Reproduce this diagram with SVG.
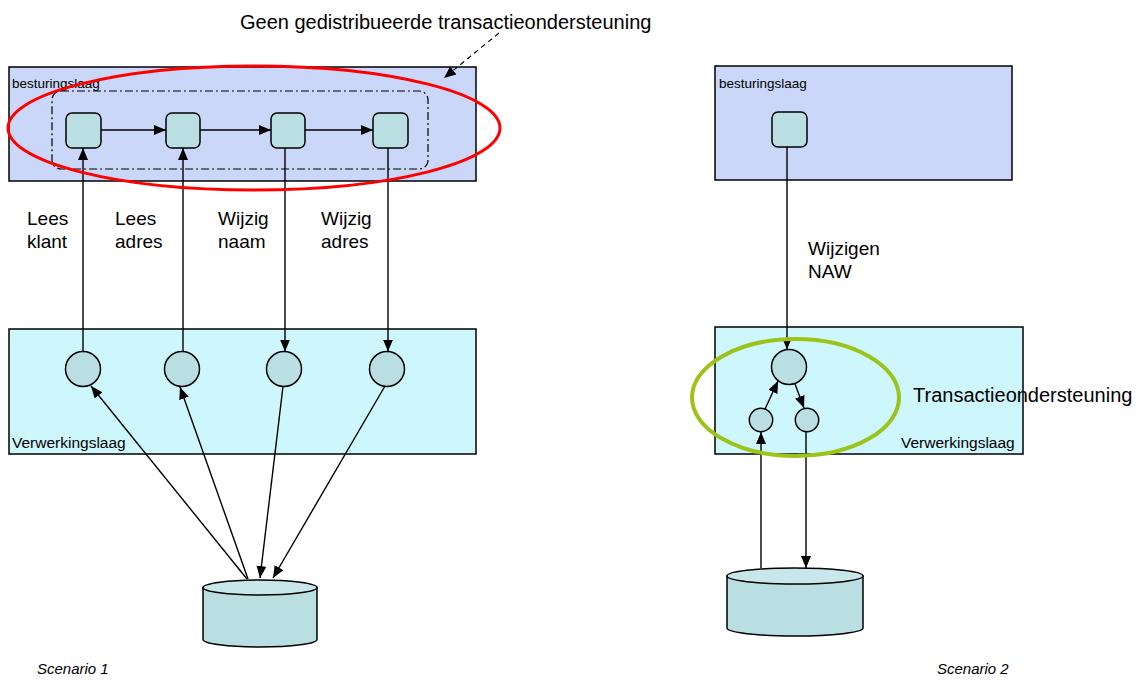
<svg xmlns="http://www.w3.org/2000/svg" width="1140" height="682" viewBox="0 0 1140 682">
  <style>
    text { font-family: "Liberation Sans", Arial, sans-serif; fill: #000; }
    .layer-top { fill: #CAD7F8; stroke: #000; stroke-width: 1.5; }
    .layer-bot { fill: #CDF7FD; stroke: #000; stroke-width: 1.5; }
    .comp { fill: #B9DFE2; stroke: #000; stroke-width: 1.5; }
    .link { fill: none; stroke: #000; stroke-width: 1.4; marker-end: url(#arrow); }
    .small { font-size: 13.5px; }
    .layer-label { font-size: 15.5px; }
    .label { font-size: 19px; }
    .caption { font-size: 15px; font-style: italic; }
  </style>
  <defs>
    <marker id="arrow" markerWidth="13" markerHeight="11" refX="12" refY="5" orient="auto" markerUnits="userSpaceOnUse">
      <path d="M0,0 L12,5 L0,10 z" fill="#000"/>
    </marker>
  </defs>

  <rect width="1140" height="682" fill="#fff"/>

  <!-- Scenario 1 -->
  <g id="s1-besturingslaag">
    <rect class="layer-top" x="9" y="67" width="467" height="114"/>
    <text class="small" x="12" y="88">besturingslaag</text>
    <rect x="52" y="91" width="376" height="78" rx="9" fill="none" stroke="#000" stroke-width="1.2" stroke-dasharray="8 3 2 3"/>
  </g>
  <g id="s1-verwerkingslaag">
    <rect class="layer-bot" x="9" y="329" width="467" height="125"/>
    <text class="layer-label" x="12" y="448">Verwerkingslaag</text>
  </g>

  <g id="s1-task1"><rect class="comp" x="66" y="113" width="35" height="35" rx="6"/></g>
  <g id="s1-task2"><rect class="comp" x="166" y="113" width="34" height="35" rx="6"/></g>
  <g id="s1-task3"><rect class="comp" x="271" y="113" width="34" height="35" rx="6"/></g>
  <g id="s1-task4"><rect class="comp" x="373" y="113" width="35" height="35" rx="6"/></g>

  <g id="s1-service1"><circle class="comp" cx="83" cy="369" r="17.5"/></g>
  <g id="s1-service2"><circle class="comp" cx="182" cy="369" r="17.5"/></g>
  <g id="s1-service3"><circle class="comp" cx="284" cy="369" r="17.5"/></g>
  <g id="s1-service4"><circle class="comp" cx="387" cy="369" r="17.5"/></g>

  <g id="s1-database">
    <path class="comp" d="M203,587.5 L203,639.5 A57,7.5 0 0 0 317,639.5 L317,587.5 Z"/>
    <ellipse cx="260" cy="587.5" rx="57" ry="7.5" fill="#C8E7EA" stroke="#000" stroke-width="1.5"/>
  </g>

  <g id="s1-connectors">
    <line class="link" x1="101" y1="130" x2="166" y2="130"/>
    <line class="link" x1="200" y1="130" x2="271" y2="130"/>
    <line class="link" x1="305" y1="130" x2="373" y2="130"/>
    <line class="link" x1="83" y1="351.5" x2="83" y2="148"/>
    <line class="link" x1="183" y1="351.5" x2="183" y2="148"/>
    <line class="link" x1="285" y1="148" x2="285" y2="351.5"/>
    <line class="link" x1="388" y1="148" x2="388" y2="351.5"/>
    <line class="link" x1="247" y1="579" x2="91" y2="386"/>
    <line class="link" x1="248" y1="579" x2="180" y2="387"/>
    <line class="link" x1="283" y1="386.5" x2="260" y2="578"/>
    <line class="link" x1="385" y1="386" x2="273" y2="578"/>
  </g>

  <g id="s1-labels">
    <text class="label" x="27" y="225">Lees</text>
    <text class="label" x="27" y="248">klant</text>
    <text class="label" x="115" y="225">Lees</text>
    <text class="label" x="115" y="248">adres</text>
    <text class="label" x="218" y="225">Wijzig</text>
    <text class="label" x="218" y="248">naam</text>
    <text class="label" x="321" y="225">Wijzig</text>
    <text class="label" x="321" y="248">adres</text>
  </g>

  <g id="s1-note">
    <ellipse cx="254" cy="128" rx="246" ry="62" fill="none" stroke="#FF0000" stroke-width="3"/>
    <text x="240" y="29" style="font-size:20px">Geen gedistribueerde transactieondersteuning</text>
    <line x1="499" y1="33" x2="444" y2="78" stroke="#000" stroke-width="1.2" stroke-dasharray="5 4" marker-end="url(#arrow)"/>
  </g>

  <text class="caption" x="37" y="674">Scenario 1</text>

  <!-- Scenario 2 -->
  <g id="s2-besturingslaag">
    <rect class="layer-top" x="715" y="66" width="297" height="114"/>
    <text class="small" x="719" y="88">besturingslaag</text>
  </g>
  <g id="s2-verwerkingslaag">
    <rect class="layer-bot" x="715" y="327" width="308" height="127"/>
    <text class="layer-label" x="901" y="448">Verwerkingslaag</text>
  </g>

  <g id="s2-task"><rect class="comp" x="772" y="112" width="35" height="35" rx="6"/></g>
  <g id="s2-service"><circle class="comp" cx="789" cy="367" r="17.5"/></g>
  <g id="s2-sub1"><circle class="comp" cx="761" cy="420" r="11.7"/></g>
  <g id="s2-sub2"><circle class="comp" cx="807" cy="420" r="11.7"/></g>

  <g id="s2-database">
    <path class="comp" d="M727,576 L727,628 A68,8 0 0 0 863,628 L863,576 Z"/>
    <ellipse cx="795" cy="576" rx="68" ry="8" fill="#C8E7EA" stroke="#000" stroke-width="1.5"/>
  </g>

  <g id="s2-connectors">
    <line class="link" x1="787" y1="147" x2="787" y2="349.5"/>
    <line class="link" x1="765" y1="409" x2="778" y2="381"/>
    <line class="link" x1="795" y1="384" x2="804" y2="408"/>
    <line class="link" x1="761" y1="568" x2="761" y2="432"/>
    <line class="link" x1="806" y1="432" x2="806" y2="568"/>
  </g>

  <g id="s2-labels">
    <text class="label" x="808" y="255">Wijzigen</text>
    <text class="label" x="808" y="278">NAW</text>
  </g>

  <g id="s2-note">
    <ellipse cx="795.5" cy="397.5" rx="103.5" ry="58.5" fill="none" stroke="#9BC31A" stroke-width="4"/>
    <text x="913" y="402" style="font-size:20px">Transactieondersteuning</text>
  </g>

  <text class="caption" x="937" y="674">Scenario 2</text>
</svg>
